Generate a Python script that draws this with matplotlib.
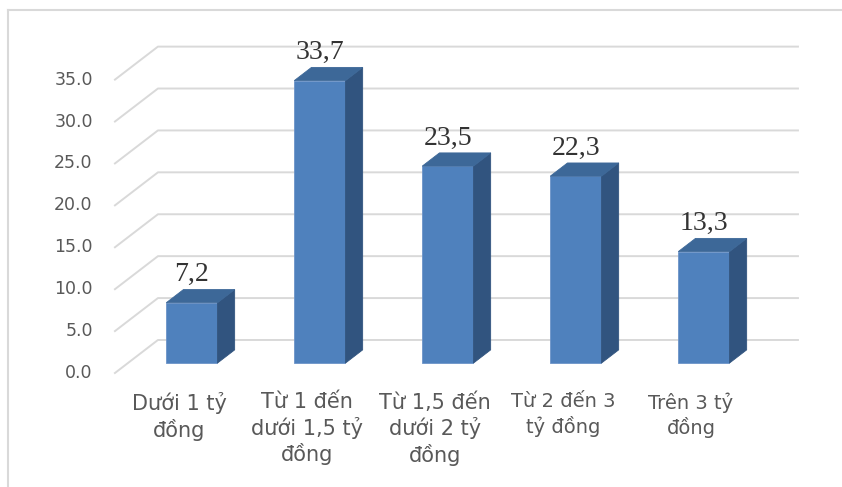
import matplotlib.pyplot as plt
from matplotlib.patches import Polygon
from matplotlib.lines import Line2D

categories = ["Dưới 1 tỷ\nđồng", "Từ 1 đến\ndưới 1,5 tỷ\nđồng", "Từ 1,5 đến\ndưới 2 tỷ\nđồng",
              "Từ 2 đến 3\ntỷ đồng", "Trên 3 tỷ\nđồng"]
values = [7.2, 33.7, 23.5, 22.3, 13.3]
labels = ["7,2", "33,7", "23,5", "22,3", "13,3"]
yticks = [0, 5, 10, 15, 20, 25, 30, 35]

DX = 0.336   # depth shift in category units
DY = 3.94    # depth shift in value units
GRID = "#D9D9D9"
TXT = "#595959"

fig = plt.figure(figsize=(8.42, 4.87), dpi=100)
ax = fig.add_axes([0, 0, 1, 1])
ax.set_xlim(-0.898, 5.68)
ax.set_ylim(-13.6, 44.5)
ax.axis("off")

# frame (top and left edges visible)
fig.add_artist(Line2D([0.0095, 0.0095], [0, 0.979], color=GRID, lw=1.5))
fig.add_artist(Line2D([0.0095, 1], [0.979, 0.979], color=GRID, lw=1.5))

# gridlines on side wall + back wall
n = len(categories)
for t in yticks:
    ax.plot([0, DX, n + DX], [t, t + DY, t + DY], color=GRID, lw=1.4, zorder=1)
    ax.annotate(f"{t:.1f}", (0, t), xytext=(-16, 0), textcoords="offset points",
                ha="right", va="center", fontsize=12.5, color=TXT)

front = "#4F81BD"
top = "#3D6898"
side = "#31547F"
for i, v in enumerate(values):
    x0 = i + 0.3 + 0.3 * DX
    x1 = x0 + 0.4
    y0 = 0.3 * DY
    y1 = v + 0.3 * DY
    ddx, ddy = 0.4 * DX, 0.4 * DY
    ax.add_patch(Polygon([(x0, y0), (x1, y0), (x1, y1), (x0, y1)], closed=True,
                         facecolor=front, edgecolor="#6C93C8", lw=0.6, zorder=3))
    ax.add_patch(Polygon([(x1, y0), (x1 + ddx, y0 + ddy), (x1 + ddx, y1 + ddy), (x1, y1)],
                         closed=True, facecolor=side, edgecolor=side, lw=0.6, zorder=3))
    ax.add_patch(Polygon([(x0, y1), (x1, y1), (x1 + ddx, y1 + ddy), (x0 + ddx, y1 + ddy)],
                         closed=True, facecolor=top, edgecolor=top, lw=0.6, zorder=3))
    ax.annotate(labels[i], ((x0 + x1) / 2, v + 0.7 * DY), xytext=(0, 6), textcoords="offset points",
                ha="center", va="baseline", fontsize=20, family="Liberation Serif",
                color="#333333", zorder=4)

for i, c in enumerate(categories):
    fs = 15 if i < 3 else 14
    ax.annotate(c, (i + 0.5, 0), xytext=(0, -14), textcoords="offset points",
                ha="center", va="top", fontsize=fs, color=TXT, linespacing=1.25)

fig.savefig("out.png", dpi=100)
